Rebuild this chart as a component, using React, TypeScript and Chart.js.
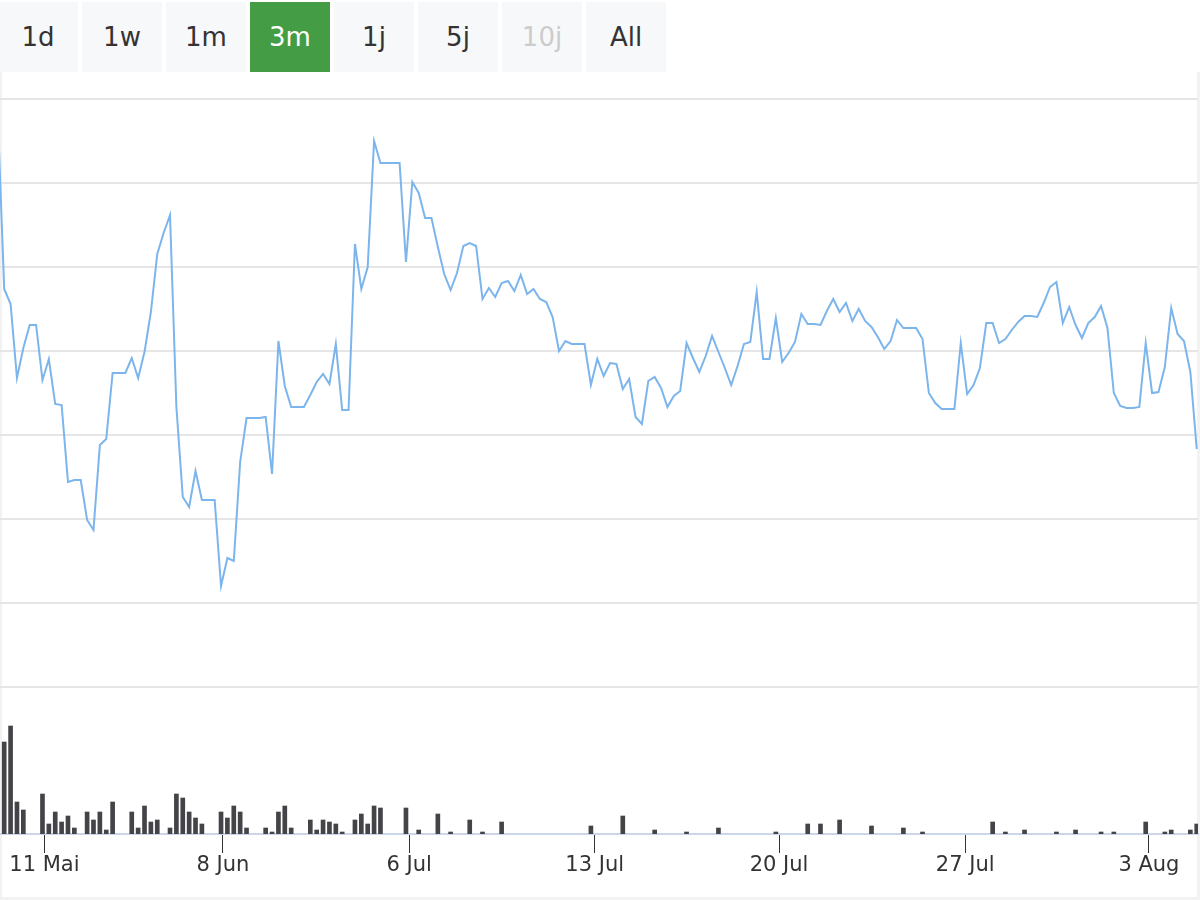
import { useEffect, useRef } from 'react';
import { Chart, registerables } from 'chart.js';

Chart.register(...registerables);

const ranges = ['1d', '1w', '1m', '3m', '1j', '5j', '10j', 'All'];
const activeRange = '3m';
const disabledRanges = ['10j'];

// x axis labels and where they sit on the trading-day index
const tickLabels = ['11 Mai', '8 Jun', '6 Jul', '13 Jul', '20 Jul', '27 Jul', '3 Aug'];
const tickIndex = [7.3, 35.3, 64.5, 93.6, 122.5, 151.7, 180.5];

// horizontal grid lines of the price pane
const priceGrid = [20, 20.84, 21.68, 22.52, 23.36, 24.2, 25.04, 25.88];

// closing price per point
const price = [
  25.69, 23.98, 23.83, 23.09, 23.39, 23.62, 23.62, 23.07, 23.28, 22.83,
  22.82, 22.05, 22.07, 22.07, 21.67, 21.57, 22.42, 22.48, 23.14, 23.14,
  23.14, 23.29, 23.09, 23.35, 23.75, 24.33, 24.54, 24.72, 22.8, 21.9,
  21.8, 22.16, 21.87, 21.87, 21.87, 21.01, 21.29, 21.26, 22.25, 22.69,
  22.69, 22.69, 22.7, 22.13, 23.46, 23.01, 22.8, 22.8, 22.8, 22.92,
  23.05, 23.13, 23.03, 23.43, 22.77, 22.77, 24.43, 23.98, 24.2, 25.46,
  25.24, 25.24, 25.24, 25.24, 24.25, 25.05, 24.94, 24.69, 24.69, 24.4,
  24.13, 23.97, 24.14, 24.41, 24.44, 24.41, 23.88, 23.99, 23.9, 24.04,
  24.06, 23.96, 24.12, 23.93, 23.98, 23.88, 23.85, 23.7, 23.36, 23.46,
  23.43, 23.43, 23.43, 23.02, 23.28, 23.11, 23.24, 23.23, 22.98, 23.08,
  22.7, 22.63, 23.06, 23.1, 22.99, 22.8, 22.91, 22.96, 23.44, 23.29,
  23.15, 23.31, 23.51, 23.35, 23.19, 23.02, 23.21, 23.43, 23.45, 23.95,
  23.28, 23.28, 23.69, 23.25, 23.34, 23.45, 23.73, 23.63, 23.63, 23.62,
  23.76, 23.88, 23.75, 23.84, 23.66, 23.78, 23.66, 23.6, 23.5, 23.38,
  23.46, 23.67, 23.59, 23.59, 23.59, 23.48, 22.94, 22.84, 22.78, 22.78,
  22.78, 23.44, 22.93, 23.02, 23.19, 23.64, 23.64, 23.44, 23.48, 23.57,
  23.65, 23.71, 23.71, 23.7, 23.84, 24.0, 24.05, 23.64, 23.8, 23.62,
  23.49, 23.64, 23.7, 23.81, 23.59, 22.94, 22.81, 22.79, 22.79, 22.8,
  23.44, 22.94, 22.95, 23.2, 23.79, 23.53, 23.46, 23.15, 22.38,
];

// traded volume per point, in thousands
const volumeK = [
  0, 92, 108, 32, 24, 0, 0, 40, 10, 22,
  12, 18, 6, 0, 22, 14, 22, 4, 32, 0,
  0, 22, 6, 28, 12, 14, 0, 6, 40, 36,
  22, 16, 10, 0, 0, 22, 16, 28, 22, 6,
  0, 0, 6, 2, 22, 28, 6, 0, 0, 14,
  4, 14, 12, 10, 2, 0, 14, 20, 10, 28,
  26, 0, 0, 0, 26, 0, 4, 0, 0, 20,
  0, 2, 0, 0, 14, 0, 2, 0, 0, 12,
  0, 0, 0, 0, 0, 0, 0, 0, 0, 0,
  0, 0, 0, 8, 0, 0, 0, 0, 18, 0,
  0, 0, 0, 4, 0, 0, 0, 0, 2, 0,
  0, 0, 0, 6, 0, 0, 0, 0, 0, 0,
  0, 0, 2, 0, 0, 0, 0, 10, 0, 10,
  0, 0, 14, 0, 0, 0, 0, 8, 0, 0,
  0, 0, 6, 0, 0, 2, 0, 0, 0, 0,
  0, 0, 0, 0, 0, 0, 12, 0, 2, 0,
  0, 4, 0, 0, 0, 0, 2, 0, 0, 4,
  0, 0, 0, 2, 0, 2, 0, 0, 0, 0,
  12, 0, 0, 2, 4, 0, 0, 4, 10,
];

const FONT = 'DejaVu Sans';

function RangeButtons() {
  return (
    <div style={{ display: 'flex', gap: 4, marginLeft: -2, paddingTop: 2, height: 70 }}>
      {ranges.map((r) => {
        const active = r === activeRange;
        const disabled = disabledRanges.includes(r);
        return (
          <div
            key={r}
            style={{
              width: 80,
              height: 70,
              display: 'flex',
              alignItems: 'center',
              justifyContent: 'center',
              background: active ? '#449d44' : '#f7f8fa',
              color: active ? '#ffffff' : disabled ? '#cccccc' : '#333333',
              fontFamily: FONT,
              fontSize: 26,
            }}
          >
            {r}
          </div>
        );
      })}
    </div>
  );
}

function PriceChart() {
  const ref = useRef<HTMLCanvasElement>(null);
  const chartRef = useRef<Chart | null>(null);

  useEffect(() => {
    if (!ref.current) return;

    chartRef.current?.destroy();
    chartRef.current = new Chart(ref.current, {
      type: 'bar',
      data: {
        datasets: [
          {
            type: 'line',
            label: 'Kurs',
            data: price.map((y, x) => ({ x, y })),
            borderColor: '#7cb5ec',
            borderWidth: 2,
            pointRadius: 0,
            tension: 0,
            clip: 0,
            yAxisID: 'y',
          } as any,
          {
            type: 'bar',
            label: 'Volumen',
            // days without trades get no bar at all
            data: volumeK.map((v, x) => ({ x, y: v === 0 ? null : v })),
            backgroundColor: '#434348',
            borderWidth: 0,
            barThickness: 4,
            yAxisID: 'y2',
          },
        ],
      },
      options: {
        responsive: true,
        maintainAspectRatio: false,
        animation: false,
        layout: { padding: { top: 27, right: 2, left: 0, bottom: 0 } },
        plugins: { legend: { display: false }, tooltip: { enabled: false } },
        scales: {
          x: {
            type: 'linear',
            min: 0.34,
            max: 188.2,
            offset: false,
            afterBuildTicks: (s: any) => { s.ticks = tickIndex.map((value) => ({ value })); },
            afterFit: (s: any) => { s.height = 66; },
            grid: { drawOnChartArea: false, drawTicks: true, tickLength: 19, tickColor: '#333333', tickWidth: 1, offset: false },
            border: { color: '#ccd6eb', width: 2 },
            ticks: {
              autoSkip: false, maxRotation: 0, padding: 0, color: '#333333',
              font: { family: FONT, size: 21 },
              callback: (_v: any, i: number) => tickLabels[i],
            },
          },
          y: {
            min: 18.53,
            max: 25.88,
            afterBuildTicks: (s: any) => { s.ticks = priceGrid.map((value) => ({ value })); },
            afterFit: (s: any) => { s.width = 0; },
            grid: { color: '#e6e6e6', lineWidth: 2, drawTicks: false },
            border: { display: false },
            ticks: { display: false },
          },
          y2: {
            display: false,
            min: 0,
            max: 735,
            afterFit: (s: any) => { s.width = 0; },
          },
        },
      } as any,
    });
    return () => { chartRef.current?.destroy(); };
  }, []);

  return (
    <div
      style={{
        position: 'relative',
        width: 1200,
        height: 828,
        boxShadow: 'inset 2px 0 0 #f2f2f2, inset -3px 0 0 #f2f2f2, inset 0 -3px 0 #f2f2f2',
      }}
    >
      <canvas ref={ref} />
    </div>
  );
}

export default function App() {
  return (
    <div style={{ width: 1200, height: 900, overflow: 'hidden', background: '#ffffff' }}>
      <style>{'body{margin:0}'}</style>
      <RangeButtons />
      <PriceChart />
    </div>
  );
}
